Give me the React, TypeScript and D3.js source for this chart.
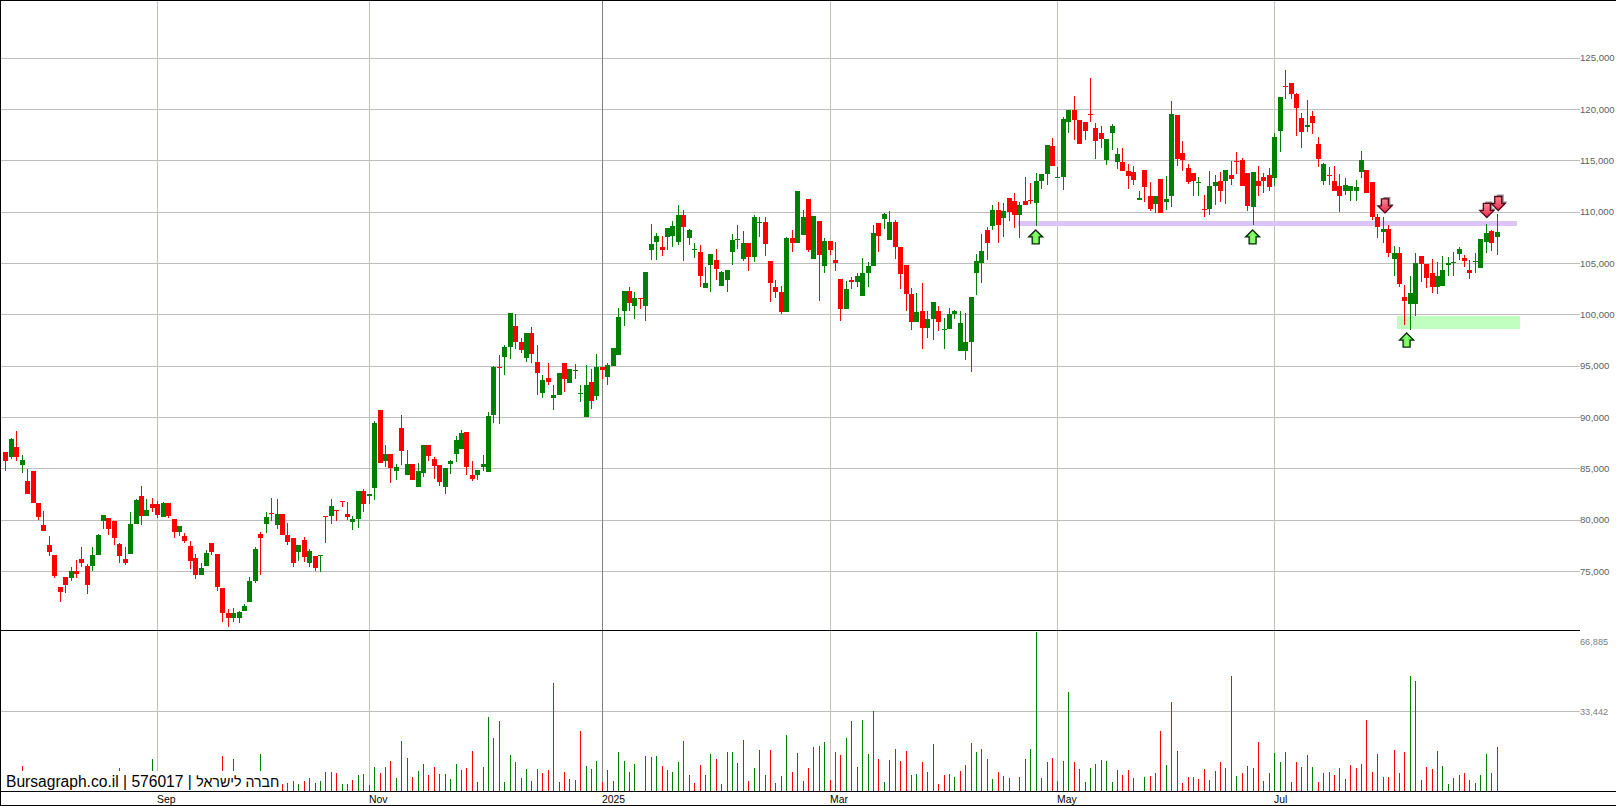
import * as d3 from 'd3';

const opens = [
  86620, 86140, 87110, 85360, 83800, 84770, 81660, 79520, 77570, 76590,
  73480, 74450, 74350, 75030, 76200, 75520, 75520, 76590, 79900, 80200,
  79900, 77670, 76200, 76690, 79610, 82340, 80390, 81560, 81560, 80290,
  81660, 80100, 78830, 78440, 77470, 76300, 74640, 75520, 77760, 76690,
  73380, 70940, 70460, 70460, 71140, 72010, 74060, 78640, 79610, 80680,
  79520, 80590, 78540, 78250, 76890, 78050, 75810, 76500, 76500, 80390,
  80390, 80980, 81850, 80590, 79810, 80100, 82830, 82340, 83120, 90720,
  85750, 86430, 84770, 88960, 84380, 85460, 83220, 84580, 87310, 85940,
  85360, 83220, 85460, 86430, 86920, 88570, 84380, 84380, 85160, 84680,
  90230, 94900, 95880, 96850, 98900, 97340, 95780, 98220, 95390, 92370,
  93830, 91890, 92180, 95290, 93350, 94510, 92280, 90030, 93440, 92080,
  94900, 93930, 95000, 96070, 100360, 102310, 100850, 101630, 100850, 106300,
  107080, 106590, 107570, 107660, 107080, 109710, 107470, 106300, 106100, 102600,
  104840, 105330, 102790, 103380, 106100, 107270, 105430, 106980, 105620, 108930,
  109030, 105230, 102700, 102210, 100260, 107470, 106980, 107760, 111270, 105430,
  109120, 104740, 107180, 105330, 103480, 100550, 103380, 103180, 101820, 104060,
  104740, 108930, 109320, 107270, 109030, 106590, 104840, 102010, 99290, 100360,
  98700, 99580, 100360, 98510, 98610, 100070, 96460, 96460, 97340, 104060,
  105030, 108250, 108640, 110200, 109420, 111360, 111070, 109710, 111070, 111170,
  110880, 113020, 113700, 116430, 113310, 113410, 118770, 119940, 118960, 118770,
  119550, 118180, 117700, 115070, 117700, 114870, 114870, 113990, 113900, 111170,
  114090, 111560, 110780, 113220, 110980, 111560, 119450, 115750, 114290, 113800,
  112830, 110290, 110290, 112530, 113020, 113020, 113600, 114970, 115070, 113800,
  110490, 113020, 113410, 113600, 113310, 117890, 122270, 122570, 121490, 119160,
  118280, 119350, 116620, 113020, 113600, 113020, 112530, 112050, 112050, 112050,
  113900, 114090, 112920, 109510, 108050, 108350, 105430, 106010, 101720, 101040,
  101040, 105720, 104940, 104060, 102700, 102790, 104840, 105030, 105910, 105520,
  104350, 105130, 104550, 107080, 108150, 107570
];

const highs = [
  86620, 87990, 88670, 86330, 84970, 84770, 81660, 80880, 78440, 76590,
  73480, 74450, 75430, 76110, 77370, 75720, 77370, 78640, 80490, 80200,
  79900, 77760, 77370, 80780, 82050, 83310, 82050, 82150, 81850, 81750,
  81660, 80100, 79420, 78730, 77960, 76690, 75810, 77080, 77760, 76690,
  73380, 71330, 71430, 71140, 71820, 74450, 77370, 78830, 80780, 82150,
  82050, 80590, 79710, 78250, 77570, 78350, 77180, 76500, 76590, 80390,
  82050, 80980, 81850, 81750, 80390, 82830, 83020, 82540, 89640, 90720,
  87310, 86430, 85460, 90230, 86820, 85460, 85550, 87310, 87310, 86140,
  85360, 85070, 85850, 88180, 88770, 88570, 85750, 84870, 86330, 90520,
  95000, 96070, 97050, 100160, 100070, 97730, 98220, 98800, 97050, 94130,
  95290, 93150, 94320, 95290, 94710, 95200, 93150, 95100, 94710, 96170,
  94900, 95290, 96760, 100650, 102310, 102700, 102210, 101630, 104160, 108830,
  107960, 107660, 108440, 109120, 110680, 110200, 108350, 106980, 106790, 104640,
  105910, 106400, 104250, 104350, 107860, 108730, 108150, 106980, 109710, 109510,
  109510, 105230, 103380, 102790, 107570, 108250, 112050, 110200, 111270, 109610,
  109120, 107470, 107180, 107080, 103480, 103280, 103670, 104060, 105520, 105130,
  108730, 108930, 109900, 110100, 109220, 106590, 104840, 102600, 102110, 103090,
  100360, 101240, 100850, 99680, 100650, 100460, 100360, 100160, 101720, 105910,
  107860, 108540, 110680, 110980, 110880, 111360, 111850, 110980, 113410, 112830,
  113800, 113700, 116530, 117210, 114380, 119260, 119940, 121300, 118960, 118770,
  123050, 118670, 118380, 117110, 118570, 116240, 116240, 114680, 114480, 112050,
  114090, 112920, 111560, 113220, 113510, 120810, 119450, 116920, 114680, 113800,
  113410, 111660, 113990, 113600, 113900, 114090, 114970, 115850, 115260, 113800,
  113900, 114480, 113800, 114290, 117700, 121200, 123830, 122570, 121590, 119640,
  120910, 119840, 117310, 114770, 114380, 114480, 113700, 113310, 112530, 113120,
  115940, 114090, 112920, 109810, 109510, 108730, 106690, 106590, 102890, 103770,
  106010, 105720, 104940, 105430, 105130, 105720, 105620, 106100, 106590, 105810,
  105330, 106010, 107370, 108830, 108250, 109810
];

const lows = [
  84770, 85940, 85750, 84580, 82540, 81660, 80000, 78930, 76500, 74350,
  72010, 72890, 74060, 74350, 75430, 72800, 75030, 76590, 79130, 78540,
  77570, 75810, 75620, 76690, 79610, 79520, 80390, 80780, 80200, 80290,
  80200, 78250, 78440, 77760, 75230, 74260, 74640, 75520, 76590, 73090,
  70070, 69580, 70070, 69970, 71140, 72010, 73870, 74640, 78730, 79900,
  79130, 78540, 77570, 75430, 76010, 75910, 75430, 75030, 74940, 77760,
  79610, 79900, 81270, 80000, 79030, 79220, 80780, 81560, 81950, 85550,
  85160, 83610, 83900, 85360, 84380, 83900, 83220, 84190, 85750, 84000,
  83310, 82540, 84480, 85650, 86920, 84380, 83800, 83900, 84770, 84680,
  89450, 89350, 94130, 95680, 96660, 96270, 95390, 95290, 92180, 91890,
  93150, 90720, 92180, 92470, 93350, 93730, 91500, 90030, 90810, 91690,
  93730, 93150, 95000, 96070, 98900, 100360, 99580, 100550, 99390, 105330,
  105330, 105720, 106300, 106590, 106790, 105230, 106790, 105520, 102700, 102600,
  102210, 103380, 102790, 102210, 104840, 106400, 105230, 104250, 105130, 107570,
  105720, 101240, 101630, 100070, 100260, 106100, 106980, 107760, 106100, 105430,
  101330, 104060, 105810, 104250, 99390, 100550, 102500, 102700, 101820, 102700,
  104740, 106100, 108350, 107270, 105430, 102500, 100360, 98510, 99290, 96660,
  97730, 97530, 98410, 96660, 98610, 99580, 96460, 95590, 94420, 101920,
  103090, 105330, 108250, 106980, 107570, 109120, 108440, 107470, 110680, 110780,
  108640, 112240, 112630, 114480, 113310, 112140, 117700, 117010, 116620, 117010,
  118770, 115160, 116240, 114580, 116040, 114190, 113990, 112240, 112630, 111170,
  110980, 110100, 109900, 109900, 110200, 110490, 114480, 113990, 112730, 111560,
  111560, 109510, 109710, 110680, 110980, 110780, 112630, 113700, 112530, 110100,
  108730, 111560, 111850, 112050, 112530, 115850, 121010, 121010, 117400, 116240,
  117790, 117600, 114380, 112630, 112630, 112050, 110000, 111660, 111070, 111070,
  113310, 111850, 109220, 107470, 106980, 105620, 103770, 102700, 98990, 98510,
  99870, 103180, 102600, 102110, 102010, 102790, 103770, 103770, 105330, 104640,
  103480, 104060, 104550, 106010, 106200, 105810
];

const closes = [
  85750, 87890, 86140, 85850, 82540, 81660, 80290, 78930, 76890, 74550,
  72990, 73670, 75030, 74740, 75810, 73670, 76590, 78540, 80490, 79130,
  78250, 76500, 75810, 79610, 81950, 80390, 80980, 81170, 80490, 81660,
  80390, 78830, 79420, 77960, 76010, 74640, 75330, 76790, 76890, 73480,
  70940, 70460, 70940, 71040, 71630, 74060, 77180, 78250, 80290, 80590,
  80590, 78540, 77860, 75810, 77570, 76400, 76980, 75330, 76590, 80290,
  81370, 80880, 81750, 80290, 80100, 82830, 81560, 82540, 89450, 85550,
  86430, 85070, 85160, 86720, 85460, 83900, 84770, 87310, 86230, 85260,
  83700, 85070, 85750, 87790, 88480, 85160, 84000, 84870, 85460, 90130,
  94900, 94810, 96850, 100160, 97340, 96560, 98220, 96170, 94320, 93640,
  93440, 92180, 94320, 93730, 94710, 94610, 92370, 93150, 91590, 94900,
  94610, 95100, 96760, 99770, 102310, 101140, 101630, 101530, 104160, 106890,
  107660, 106300, 108440, 108640, 109710, 108540, 108250, 106400, 103770, 103090,
  105910, 104450, 104160, 104350, 107270, 107370, 106980, 105620, 109510, 109030,
  106890, 103090, 102210, 100260, 107470, 106980, 112050, 109510, 106300, 109610,
  105810, 107180, 106300, 105030, 100550, 102500, 103180, 103770, 104060, 104740,
  107960, 107660, 109810, 109030, 106590, 103960, 102010, 99290, 100260, 98700,
  99580, 101240, 99290, 98610, 100070, 100360, 99190, 97340, 101720, 105230,
  106200, 106980, 110200, 108730, 110100, 110000, 109710, 110680, 110680, 111070,
  113020, 113700, 116530, 114480, 113410, 119060, 119940, 118960, 116620, 117890,
  119450, 116920, 117110, 117110, 118380, 115650, 113990, 113510, 113120, 111360,
  112440, 110290, 111560, 109900, 111270, 119550, 115160, 115070, 112920, 113020,
  112920, 110200, 112530, 112920, 112050, 114090, 113220, 114870, 112530, 110590,
  113900, 112530, 113020, 112440, 117310, 121200, 122180, 121490, 120130, 117790,
  118480, 118670, 115160, 114680, 113510, 112050, 111560, 112630, 112530, 112440,
  115070, 111850, 109510, 108540, 108350, 106010, 106010, 102990, 101330, 102110,
  105030, 104940, 103580, 102700, 103770, 104350, 105030, 105130, 106400, 105230,
  104060, 105230, 107370, 107960, 106980, 108050
];

const volumes = [
  4000, 3000, 5000, 10520, 4000, 3500, 4500, 5000, 8410, 3000,
  4000, 4500, 3000, 3500, 4000, 5000, 3000, 6000, 2500, 3500,
  4000, 9670, 3500, 4000, 8410, 5500, 3000, 13460, 4500, 3500,
  3000, 5000, 4000, 3500, 4000, 6000, 3000, 5000, 4000, 5500,
  14720, 7000, 13460, 4000, 3500, 6000, 7000, 15560, 6000, 3000,
  4000, 2940, 3500, 4210, 2940, 4210, 5470, 3370, 4210, 7990,
  7990, 7570, 2940, 2940, 4630, 6730, 7150, 2520, 10090, 7570,
  10090, 12620, 5470, 21030, 13880, 5890, 8410, 11360, 6730, 10090,
  7150, 7150, 5050, 11360, 8830, 9670, 16820, 3790, 10090, 31120,
  22290, 29440, 3790, 15140, 12200, 5470, 9250, 4210, 9250, 7570,
  8830, 45430, 3790, 7990, 5050, 4630, 25240, 10520, 9250, 12620,
  3790, 8830, 4210, 16400, 12620, 7990, 11360, 0, 14720, 14300,
  14720, 10520, 8830, 7990, 12200, 21030, 6730, 3370, 10940, 6730,
  15560, 13460, 2940, 16400, 16400, 11780, 21450, 4210, 9670, 17250,
  6730, 17250, 3370, 6310, 23550, 7990, 15980, 4210, 9670, 18510,
  18930, 20610, 4630, 16400, 15140, 22290, 29440, 10090, 29860, 15560,
  33650, 13460, 3790, 13040, 17670, 12620, 16820, 6730, 7150, 12200,
  7990, 19770, 2940, 6730, 7150, 5890, 8410, 10940, 20190, 16400,
  17670, 13460, 5050, 7990, 6310, 5470, 0, 5890, 13460, 17670,
  66885, 5470, 12200, 13880, 4210, 12620, 41640, 12200, 9250, 3790,
  9670, 11360, 13040, 12620, 3790, 8830, 6730, 8830, 5470, 0,
  5890, 6310, 7570, 25240, 10940, 37430, 16820, 3370, 5890, 5890,
  5050, 9250, 4630, 8410, 12200, 9670, 48370, 6310, 7570, 10520,
  9670, 20610, 4210, 7570, 15980, 12200, 16400, 3790, 12200, 10090,
  15140, 10090, 3790, 7570, 7990, 6730, 9670, 5050, 10940, 9670,
  11360, 29860, 7990, 15560, 5890, 5890, 17250, 7570, 16400, 48370,
  46270, 4630, 10090, 9250, 16820, 10520, 2940, 5470, 6730, 7570,
  4630, 3370, 6730, 15560, 7570, 18510
];

// g = volume bar green, r = red, it follows close against the previous close
const volumeDirs = [
  'rgrrrrrrrr', 'rggrrrgggr', 'rrrggrggrg', 'rrgrrrggrr', 'rrgggggggr',
  'grrrgrgrgg', 'grgrrgrggr', 'grggrrggrr', 'rggggrrggg', 'grggrrgrrr',
  'rrgrgrrgrg', 'rggggrgrgg', 'grgggrrrrr', 'grrgggrrgr', 'rrrrgrgrrg',
  'rgrrrggggg', 'grgrrrrrgr', 'ggrrggrrgg', 'gggrgrrggg', 'gggrrggrrg',
  'grgggrrrrr', 'grgrggrrrg', 'rrggrgrgrr', 'grgrgggrrr', 'ggrrrrrgrr',
  'grrrrrrrrg', 'grrrgggggr', 'rgggrg'
].join('');

const priceTicks = [75000, 80000, 85000, 90000, 95000, 100000, 105000, 110000, 115000, 120000, 125000];
const volumeTicks = [33442];
const volumeMax = 66885;
const monthIndex = [28, 67, 110, 152, 194, 234];
const monthLabels = ['Sep', 'Nov', '2025', 'Mar', 'May', 'Jul'];
const upArrows = [[190, 107570], [230, 107570], [258.4, 97530]];
const downArrows = [[254.4, 110590], [273.2, 110150], [275.3, 110830]];
const resistanceZone = { from: 186.75, to: 278.7, high: 109120, low: 108630 };
const supportZone = { from: 256.6, to: 279.3, high: 99870, low: 98600 };

const RED = '#ff0000';
const GREEN = '#008000';
const GRID = '#bdbdbd';
const FONT = '"Liberation Sans", Arial, sans-serif';
const right = 1580;
const baseY = 791;

const x = d3.scaleLinear().domain([0, 275]).range([5.45, 1496.6]);
const y = d3.scaleLinear().domain([130650, 69288]).range([0, 630]);
const yVol = d3.scaleLinear().domain([0, volumeMax]).range([baseY, 632]);
const label = d3.format(',');

const px = (i: number) => Math.round(x(i));
const py = (v: number) => Math.round(y(v));

const upPath = (cx: number, cy: number) =>
  `M${cx},${cy - 7}L${cx + 7},${cy}H${cx + 3.5}V${cy + 7}H${cx - 3.5}V${cy}H${cx - 7}Z`;
const downPath = (cx: number, cy: number) =>
  `M${cx},${cy + 7}L${cx + 7},${cy}H${cx + 3.5}V${cy - 7}H${cx - 3.5}V${cy}H${cx - 7}Z`;

export default function App(): JSX.Element {
  return (
    <svg
      xmlns="http://www.w3.org/2000/svg"
      width={1616}
      height={806}
      style={{ position: 'absolute', left: 0, top: 0, display: 'block', background: '#fff' }}
    >
      <defs>
        <linearGradient id="upFill" x1="0" y1="0" x2="1" y2="0">
          <stop offset="0" stopColor="#28d828" />
          <stop offset="0.5" stopColor="#90ff70" />
          <stop offset="1" stopColor="#38f038" />
        </linearGradient>
        <linearGradient id="downFill" x1="0" y1="0" x2="0" y2="1">
          <stop offset="0" stopColor="#ff8898" />
          <stop offset="1" stopColor="#e82848" />
        </linearGradient>
      </defs>

      <g shapeRendering="crispEdges">
        {priceTicks.map(t => (
          <rect key={t} x={0} y={Math.floor(y(t))} width={right} height={1} fill={GRID} />
        ))}
        {volumeTicks.map(t => (
          <rect key={t} x={0} y={Math.floor(yVol(t))} width={right} height={1} fill={GRID} />
        ))}
        {monthIndex.map((m, k) => (
          <rect
            key={m}
            x={px(m)}
            y={0}
            width={1}
            height={baseY}
            fill={monthLabels[k] === '2025' ? '#808080' : '#c0c0b8'}
          />
        ))}

        {[resistanceZone, supportZone].map((z, k) => (
          <rect
            key={k}
            x={x(z.from)}
            y={py(z.high)}
            width={x(z.to) - x(z.from)}
            height={py(z.low) - py(z.high)}
            fill={k === 0 ? '#dcc4f8' : '#c0ffc0'}
          />
        ))}

        {volumes.map((v, i) =>
          v > 0 ? (
            <rect
              key={i}
              x={px(i)}
              y={Math.round(yVol(v))}
              width={1}
              height={baseY - Math.round(yVol(v))}
              fill={volumeDirs[i] === 'g' ? GREEN : RED}
            />
          ) : null
        )}

        {opens.map((o, i) => {
          const c = closes[i];
          const color = c > o ? GREEN : RED;
          const top = py(Math.max(o, c));
          const bottom = py(Math.min(o, c));
          return (
            <g key={i} fill={color}>
              <rect x={px(i)} y={py(highs[i])} width={1} height={Math.max(1, py(lows[i]) - py(highs[i]))} />
              <rect x={px(i) - 2} y={top} width={5} height={Math.max(1, bottom - top)} />
            </g>
          );
        })}
      </g>

      {upArrows.map(([i, v]) => (
        <path
          key={i}
          d={upPath(x(i), y(v))}
          fill="url(#upFill)"
          stroke="#082808"
          strokeWidth={1.3}
        />
      ))}
      {downArrows.map(([i, v]) => (
        <g key={i}>
          <path d={downPath(x(i) + 2, y(v) - 2)} fill="#8c8c8c" />
          <path
            d={downPath(x(i), y(v))}
            fill="url(#downFill)"
            stroke="#500818"
            strokeWidth={1.3}
          />
        </g>
      ))}

      <rect x={0} y={771} width={282} height={20} fill="#fff" />
      <text x={6} y={786.5} fontFamily={FONT} fontSize={15.6} fill="#000">
        Bursagraph.co.il | 576017 | <tspan fontSize={14.2}>חברה לישראל</tspan>
      </text>

      <g shapeRendering="crispEdges" fill="#000">
        <rect x={0} y={0} width={1616} height={1} />
        <rect x={0} y={0} width={1} height={806} />
        <rect x={0} y={630} width={right} height={1} />
        <rect x={0} y={baseY} width={1616} height={1} />
        <rect x={0} y={805} width={1616} height={1} />
      </g>

      {monthIndex.map((m, k) => (
        <text key={m} x={px(m)} y={803} fontFamily={FONT} fontSize={10.4} fill="#000">
          {monthLabels[k]}
        </text>
      ))}

      {priceTicks.map(t => (
        <text
          key={t}
          x={right}
          y={y(t)}
          dy="0.35em"
          fontFamily={FONT}
          fontSize={9.6}
          fill="#606060"
        >
          {label(t)}
        </text>
      ))}
      {volumeTicks.map(t => (
        <text
          key={t}
          x={right}
          y={yVol(t)}
          dy="0.35em"
          fontFamily={FONT}
          fontSize={9.2}
          fill="#808080"
        >
          {label(t)}
        </text>
      ))}
      <text x={right} y={642} dy="0.35em" fontFamily={FONT} fontSize={9.2} fill="#808080">
        {label(volumeMax)}
      </text>
    </svg>
  );
}
